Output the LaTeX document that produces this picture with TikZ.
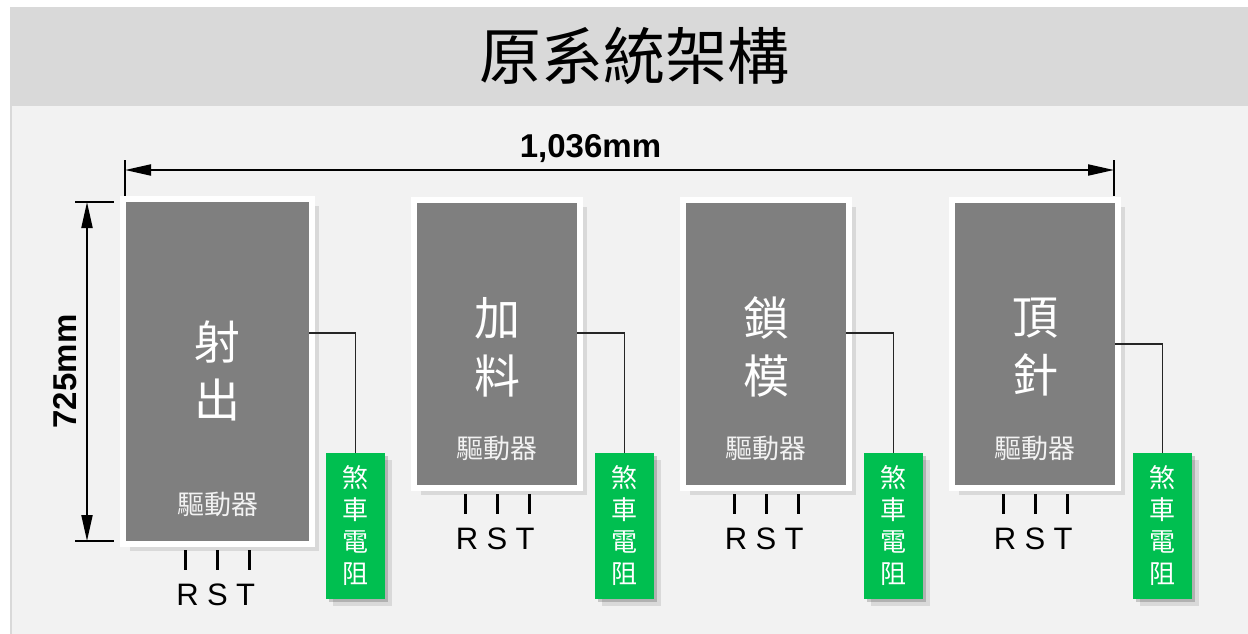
\documentclass[tikz,border=0pt]{standalone}
\usepackage{fontspec}
\setmainfont{Liberation Sans}
\newfontfamily\cjk{Noto Sans CJK TC}
\usetikzlibrary{arrows.meta,shadows}
\definecolor{panelgray}{HTML}{F2F2F2}
\definecolor{bargray}{HTML}{D9D9D9}
\definecolor{boxgray}{HTML}{7F7F7F}
\definecolor{brakegreen}{HTML}{00BF50}
\definecolor{wiregray}{HTML}{262626}
\tikzstyle{softshadow}=[drop shadow={shadow xshift=3pt,shadow yshift=-3pt,opacity=.18,fill=black},
                        drop shadow={shadow xshift=7pt,shadow yshift=-7pt,opacity=.10,fill=black}]
\tikzstyle{drive}=[draw=white, line width=6pt, fill=boxgray, inner sep=0pt, softshadow]
\tikzstyle{brake}=[fill=brakegreen, inner sep=0pt, minimum width=59pt, minimum height=146pt,
                   text=white, align=center, font=\cjk\fontsize{26}{32}\selectfont, softshadow]
\tikzstyle{boxname}=[text=white, align=center, font=\cjk\fontsize{46}{58}\selectfont]
\tikzstyle{drvlabel}=[text=panelgray, font=\cjk\fontsize{27}{27}\selectfont]
\tikzstyle{phase}=[anchor=base, font=\fontsize{31}{31}\selectfont]
\tikzstyle{wire}=[draw=wiregray, line width=1.5pt]
\tikzstyle{lead}=[draw=black, line width=3pt]
\tikzstyle{dimline}=[black, line width=2pt, {Triangle[length=26pt,width=11pt]}-{Triangle[length=26pt,width=11pt]}]
\tikzstyle{extline}=[black, line width=1.5pt]
\tikzstyle{dimtext}=[anchor=base, font=\bfseries\fontsize{33}{33}\selectfont]

\begin{document}
\begin{tikzpicture}[x=1pt,y=-1pt]%

	% background and title bar
	\useasboundingbox (0,0) rectangle (1248,634);
	\fill[panelgray] (10,7) rectangle (1248,634);
	\fill[bargray] (10,7) rectangle (1248,106);
	\draw[bargray, line width=2pt] (11,106) -- (11,634);
	\node[font=\cjk\fontsize{62}{62}\selectfont] (Title) at (634,56) {原系統架構};

	% drives
	\node[drive, minimum width=189pt, minimum height=345pt] (Drive_1) at (217.5,371.5) {};
	\node[drive, minimum width=166pt, minimum height=288pt] (Drive_2) at (497,344) {};
	\node[drive, minimum width=166pt, minimum height=288pt] (Drive_3) at (766,344) {};
	\node[drive, minimum width=166pt, minimum height=288pt] (Drive_4) at (1035,344) {};

	\node[boxname] (Name_1) at (217.5,371) {射\\出};
	\node[boxname] (Name_2) at (497,347) {加\\料};
	\node[boxname] (Name_3) at (766,347) {鎖\\模};
	\node[boxname] (Name_4) at (1035,347) {頂\\針};

	\node[drvlabel] (Label_1) at (218,504) {驅動器};
	\node[drvlabel] (Label_2) at (497,448) {驅動器};
	\node[drvlabel] (Label_3) at (766,448) {驅動器};
	\node[drvlabel] (Label_4) at (1035,448) {驅動器};

	% brake resistors
	\node[brake] (Brake_1) at (355.5,526) {煞\\車\\電\\阻};
	\node[brake] (Brake_2) at (624.5,526) {煞\\車\\電\\阻};
	\node[brake] (Brake_3) at (893.5,526) {煞\\車\\電\\阻};
	\node[brake] (Brake_4) at (1162.5,526) {煞\\車\\電\\阻};

	\coordinate (Tap_1) at (309,333);
	\coordinate (Tap_2) at (577,333);
	\coordinate (Tap_3) at (846,333);
	\coordinate (Tap_4) at (1115,344);
	\draw[wire] (Tap_1) -| (Brake_1.north);
	\draw[wire] (Tap_2) -| (Brake_2.north);
	\draw[wire] (Tap_3) -| (Brake_3.north);
	\draw[wire] (Tap_4) -| (Brake_4.north);

	% R S T leads
	\foreach \b in {1,2,3,4}
		\foreach \dx/\lx/\ph in {-32/-30/R, 0/0/S, 32/28/T} {
			\draw[lead] (Drive_\b.south) ++(\dx,3) -- ++(0,20);
			\path (Drive_\b.south) ++(\lx,58) node[phase] (RST_\b\ph) {\ph};
		}

	% dimensions
	\coordinate (DimL) at (125,170);
	\coordinate (DimR) at (1114,170);
	\draw[extline] (125,160) -- (125,196);
	\draw[extline] (1114,160) -- (1114,196);
	\draw[dimline] (DimL) -- (DimR);
	\node[dimtext] (Width) at (590.5,157) {1,036mm};

	\coordinate (DimT) at (87,202);
	\coordinate (DimB) at (87,541);
	\draw[extline] (75,202) -- (114,202);
	\draw[extline] (75,541) -- (114,541);
	\draw[dimline] (DimT) -- (DimB);
	\node[dimtext, rotate=90] (Height) at (76.5,371.5) {725mm};

\end{tikzpicture}
\end{document}
